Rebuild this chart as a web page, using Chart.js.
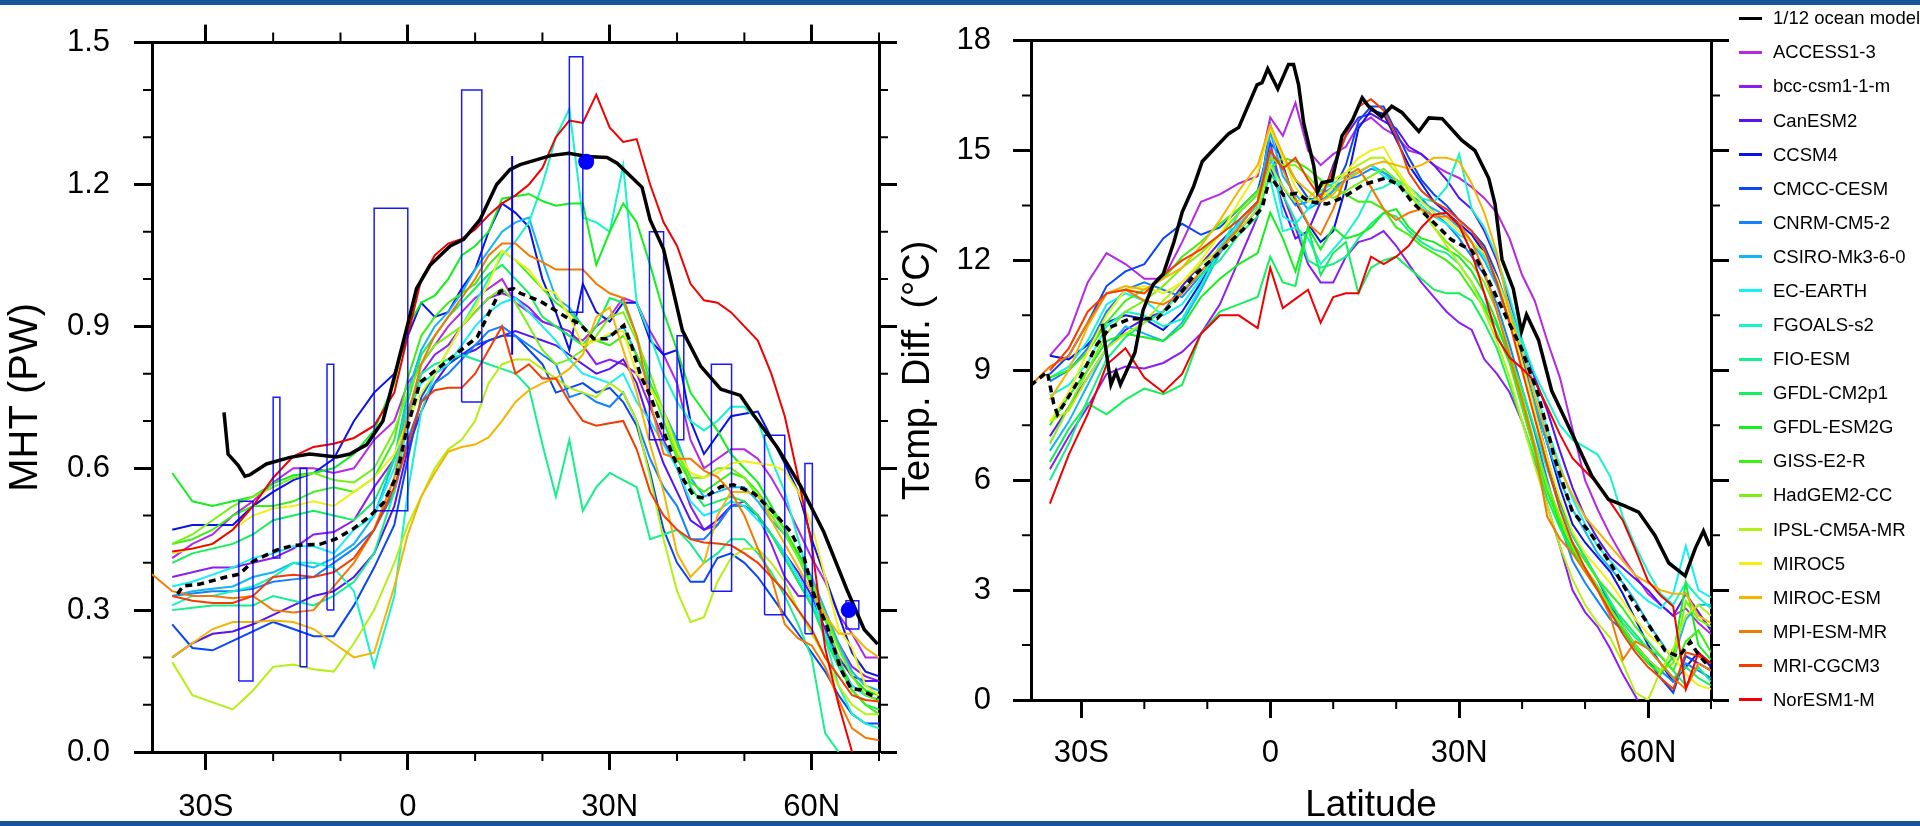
<!DOCTYPE html>
<html>
<head>
<meta charset="utf-8">
<script src="https://cdn.jsdelivr.net/npm/chart.js@4.4.0/dist/chart.umd.min.js"></script>
<style>
  html, body { margin: 0; padding: 0; background: #fff; }
  #wrap { position: relative; width: 1920px; height: 826px; overflow: hidden; font-family: "Liberation Sans", Arial, sans-serif; }
  .band { position: absolute; left: 0; width: 1920px; background: #17569b; }
  #mht { position: absolute; left: 0; top: 0; }
  #temp { position: absolute; left: 880px; top: 0; }
  .key { position: absolute; left: 1739px; width: 23px; height: 3px; }
  .keytext { position: absolute; left: 1773px; font-size: 18.5px; line-height: 20px; white-space: nowrap; color: #000; }
</style>
</head>
<body>
<div id="wrap">
  <canvas id="mht" width="960" height="826"></canvas>
  <canvas id="temp" width="1040" height="826"></canvas>
  <div id="legend"></div>
  <div class="band" style="top:0;height:5px"></div>
  <div class="band" style="top:821px;height:5px"></div>
</div>
<script>
// ---- axis ticks ----
const xMajor = [-30, 0, 30, 60];
const xLabels = ['30S', '0', '30N', '60N'];
const xMinor = [-20, -10, 10, 20, 40, 50, 70];
const mhtMajor = [0, 0.3, 0.6, 0.9, 1.2, 1.5];
const mhtMinor = [0.1, 0.2, 0.4, 0.5, 0.7, 0.8, 1.0, 1.1, 1.3, 1.4];
const tempMajor = [0, 3, 6, 9, 12, 15, 18];
const tempMinor = [1.5, 4.5, 7.5, 10.5, 13.5, 16.5];

// ---- models ----
const models = ['ACCESS1-3', 'bcc-csm1-1-m', 'CanESM2', 'CCSM4', 'CMCC-CESM', 'CNRM-CM5-2', 'CSIRO-Mk3-6-0',
  'EC-EARTH', 'FGOALS-s2', 'FIO-ESM', 'GFDL-CM2p1', 'GFDL-ESM2G', 'GISS-E2-R', 'HadGEM2-CC', 'IPSL-CM5A-MR',
  'MIROC5', 'MIROC-ESM', 'MPI-ESM-MR', 'MRI-CGCM3', 'NorESM1-M'];
const colors = ['#b428e6', '#8c1ef2', '#5514f0', '#0a14e6', '#0a46f5', '#1482ff', '#14b4f5',
  '#14f0f5', '#14f5c8', '#14f08c', '#14f05a', '#14f01e', '#3cf014', '#78f014', '#b4f014',
  '#f0f014', '#f5b400', '#f57800', '#f53c00', '#f00000'];

// latitude grid shared by the model curves
const latGrid = [-38, -35, -32, -29, -26, -23, -20, -17, -14, -11, -8, -5, -2,
  0, 2, 4, 6, 8, 10, 12, 14, 16, 18, 20, 22, 24, 26, 28, 30, 32, 34, 36, 38, 40, 42, 44, 46, 48,
  50, 52, 54, 56, 58, 60, 62, 64, 66, 68, 70];

// MHT (PW), left panel
const mhtACCESS = [null, 0.41,0.44,0.46,0.50,0.53,0.57,0.60,0.60,0.59,0.60,0.66,0.70, 0.78,0.82,0.86,0.90,0.93,0.96,0.98,1.00,0.95,0.93,0.91,0.90,0.88,0.87,0.90,0.92,0.96,0.95,0.89,0.84,0.78,0.66,0.60,0.62,0.64,0.64,0.62,0.58,0.53,0.47,0.41,0.36,0.29,0.25,0.20,0.20];
const mhtBCC = [null, 0.37,0.38,0.39,0.39,0.40,0.41,0.43,0.46,0.465,0.49,0.56,0.62, 0.72,0.80,0.84,0.86,0.90,0.93,0.96,0.97,0.96,0.94,0.91,0.90,0.89,0.86,0.82,0.83,0.82,0.80,0.73,0.66,0.60,0.52,0.47,0.48,0.52,0.53,0.50,0.44,0.37,0.33,0.33,0.28,0.23,0.18,0.16,0.15];
const mhtCanESM2 = [null, 0.20,0.23,0.25,0.255,0.27,0.29,0.31,0.33,0.34,0.37,0.42,0.52, 0.64,0.72,0.78,0.82,0.84,0.85,0.87,0.88,0.89,0.88,0.87,0.86,0.84,0.82,0.80,0.81,0.83,0.78,0.69,0.61,0.55,0.49,0.47,0.49,0.52,0.52,0.50,0.46,0.42,0.38,0.33,0.26,0.20,0.16,0.15,0.15];
const mhtCCSM4 = [null, 0.47,0.48,0.48,0.48,0.52,0.55,0.575,0.59,0.62,0.70,0.76,0.80, 0.88,0.95,0.92,0.93,0.98,1.02,1.10,1.16,1.14,1.11,1.00,0.93,0.85,0.99,0.93,0.91,0.95,0.95,0.87,0.84,0.85,0.70,0.63,0.67,0.71,0.715,0.72,0.665,0.61,0.55,0.45,0.37,0.29,0.21,0.17,0.16];
const mhtCMCC = [null, 0.27,0.22,0.215,0.235,0.255,0.275,0.26,0.245,0.245,0.31,0.39,0.48, 0.62,0.75,0.80,0.82,0.84,0.86,0.87,0.88,0.88,0.85,0.82,0.76,0.77,0.78,0.76,0.77,0.74,0.69,0.59,0.47,0.40,0.36,0.36,0.41,0.42,0.40,0.37,0.33,0.29,0.25,0.21,0.17,0.12,0.08,0.06,0.06];
const mhtCNRM = [null, 0.33,0.335,0.34,0.34,0.345,0.36,0.365,0.37,0.40,0.43,0.47,0.55, 0.66,0.74,0.78,0.80,0.83,0.86,0.89,0.90,0.88,0.86,0.84,0.82,0.75,0.76,0.74,0.73,0.76,0.70,0.62,0.56,0.52,0.45,0.45,0.48,0.52,0.52,0.50,0.46,0.41,0.36,0.31,0.25,0.19,0.14,0.12,0.11];
const mhtCSIRO = [null, 0.33,0.34,0.345,0.35,0.37,0.38,0.40,0.39,0.41,0.44,0.50,0.62, 0.76,0.85,0.90,0.93,0.97,1.02,1.06,1.10,1.12,1.13,1.04,0.96,0.94,0.90,0.87,0.88,0.90,0.84,0.77,0.72,0.66,0.58,0.54,0.55,0.56,0.56,0.53,0.49,0.46,0.42,0.37,0.30,0.23,0.17,0.14,0.13];
const mhtEC = [null, 0.35,0.36,0.375,0.39,0.41,0.42,0.435,0.435,0.42,0.47,0.50,0.60, 0.72,0.78,0.80,0.82,0.86,0.90,0.93,0.95,0.96,0.93,0.90,0.87,0.83,0.80,0.79,0.78,0.80,0.74,0.70,0.65,0.60,0.53,0.50,0.51,0.53,0.52,0.49,0.46,0.42,0.37,0.32,0.25,0.18,0.14,0.12,0.11];
const mhtFGOALS = [null, 0.31,0.33,0.33,0.34,0.35,0.37,0.40,0.40,0.39,0.34,0.18,0.33, 0.55,0.72,0.80,0.85,0.90,0.95,1.00,1.05,1.08,1.12,1.20,1.30,1.36,1.13,1.12,1.10,1.24,0.95,0.88,0.80,0.74,0.70,0.68,0.70,0.73,0.73,0.70,0.62,0.55,0.45,0.35,0.24,0.14,0.08,0.06,0.05];
const mhtFIO = [null, 0.30,0.305,0.31,0.31,0.31,0.33,0.32,0.31,0.33,0.36,0.42,0.55, 0.70,0.80,0.82,0.83,0.84,0.83,0.82,0.81,0.80,0.77,0.65,0.54,0.66,0.51,0.56,0.59,0.575,0.56,0.45,0.46,0.47,0.44,0.40,0.42,0.45,0.45,0.42,0.38,0.33,0.27,0.20,0.04,0.0,null,null,null];
const mhtCM2p1 = [null, 0.40,0.42,0.43,0.44,0.46,0.49,0.50,0.51,0.50,0.49,0.53,0.62, 0.74,0.84,0.88,0.92,0.95,0.98,1.01,1.03,1.00,0.97,0.92,0.90,0.88,0.86,0.90,0.96,0.95,0.88,0.78,0.72,0.65,0.56,0.52,0.53,0.54,0.53,0.50,0.46,0.41,0.36,0.31,0.24,0.18,0.13,0.10,0.09];
const mhtESM2G = [null, 0.59,0.53,0.52,0.53,0.54,0.568,0.585,0.59,0.60,0.63,0.68,0.78, 0.90,0.95,0.965,1.0,1.05,1.07,1.10,1.17,1.175,1.18,1.165,1.155,1.16,1.16,1.03,1.10,1.16,1.12,1.03,0.93,0.85,0.76,0.72,0.68,0.63,0.60,0.57,0.52,0.47,0.42,0.36,0.29,0.22,0.16,0.13,0.12];
const mhtGISS = [null, 0.44,0.45,0.47,0.50,0.52,0.52,0.53,0.55,0.56,0.55,0.58,0.66, 0.79,0.88,0.92,0.95,0.97,0.99,1.03,1.06,1.04,1.01,0.98,0.95,0.93,0.90,0.87,0.86,0.88,0.84,0.78,0.70,0.62,0.57,0.55,0.57,0.59,0.58,0.55,0.51,0.47,0.41,0.35,0.28,0.20,0.13,0.10,0.08];
const mhtHadGEM = [null, 0.44,0.46,0.49,0.52,0.54,0.56,0.58,0.59,0.575,0.57,0.60,0.68, 0.76,0.82,0.86,0.88,0.90,0.93,0.96,0.98,0.95,0.90,0.85,0.82,0.83,0.85,0.88,0.92,0.93,0.87,0.80,0.72,0.63,0.58,0.58,0.60,0.60,0.58,0.54,0.50,0.46,0.41,0.36,0.29,0.22,0.16,0.12,0.11];
const mhtIPSL = [null, 0.19,0.12,0.105,0.09,0.13,0.18,0.185,0.175,0.17,0.23,0.30,0.40, 0.48,0.54,0.60,0.64,0.66,0.70,0.78,0.82,0.83,0.83,0.81,0.79,0.77,0.76,0.75,0.78,0.76,0.70,0.58,0.45,0.34,0.275,0.285,0.36,0.41,0.43,0.43,0.40,0.36,0.30,0.25,0.20,0.14,0.10,0.08,0.08];
const mhtMIROC5 = [null, 0.42,0.43,0.44,0.47,0.50,0.515,0.52,0.53,0.52,0.55,0.58,0.63, 0.70,0.76,0.80,0.85,0.90,0.94,0.99,1.06,1.04,1.02,0.98,0.97,0.92,0.86,0.87,0.885,0.89,0.80,0.77,0.72,0.64,0.59,0.58,0.59,0.61,0.615,0.61,0.607,0.595,0.55,0.48,0.37,0.26,0.22,0.14,0.12];
const mhtMIROCESM = [null, 0.20,0.23,0.26,0.275,0.275,0.278,0.275,0.26,0.23,0.20,0.21,0.35, 0.46,0.54,0.59,0.635,0.645,0.65,0.665,0.70,0.74,0.765,0.78,0.79,0.81,0.84,0.92,0.94,0.85,0.76,0.65,0.55,0.42,0.37,0.40,0.50,0.55,0.55,0.545,0.49,0.44,0.39,0.34,0.29,0.25,0.25,0.22,0.20];
const mhtMPI = [0.376, 0.34,0.33,0.33,0.325,0.33,0.30,0.295,0.30,0.35,0.40,0.47,0.58, 0.71,0.82,0.88,0.92,0.96,1.00,1.05,1.075,1.075,1.05,1.036,1.02,1.02,1.02,0.99,0.97,0.96,0.88,0.74,0.63,0.62,0.62,0.595,0.582,0.55,0.50,0.43,0.37,0.27,0.24,0.225,0.18,0.11,0.05,0.03,0.025];
const mhtMRI = [null, 0.33,0.32,0.315,0.315,0.33,0.37,0.375,0.37,0.38,0.41,0.47,0.56, 0.65,0.74,0.765,0.77,0.77,0.80,0.85,0.90,0.80,0.82,0.79,0.79,0.74,0.70,0.69,0.695,0.70,0.64,0.55,0.50,0.47,0.45,0.443,0.441,0.437,0.42,0.40,0.37,0.34,0.30,0.26,0.20,0.16,0.12,0.11,0.107];
const mhtNorESM = [null, 0.424,0.43,0.44,0.47,0.52,0.58,0.625,0.645,0.652,0.664,0.69,0.76, 0.88,1.00,1.05,1.075,1.085,1.105,1.135,1.16,1.177,1.20,1.235,1.30,1.335,1.33,1.39,1.32,1.29,1.296,1.20,1.12,1.07,0.99,0.955,0.95,0.93,0.90,0.87,0.80,0.71,0.58,0.44,0.22,0.10,0.0,null,null];
const mhtModels = [mhtACCESS, mhtBCC, mhtCanESM2, mhtCCSM4, mhtCMCC, mhtCNRM, mhtCSIRO, mhtEC, mhtFGOALS, mhtFIO,
  mhtCM2p1, mhtESM2G, mhtGISS, mhtHadGEM, mhtIPSL, mhtMIROC5, mhtMIROCESM, mhtMPI, mhtMRI, mhtNorESM];

// 1/12 ocean model and model mean, MHT
const mhtOceanLat = [-27.3,-26.7,-25.2,-24.2,-23.5,-21,-17.5,-14.6,-10.6,-8.6,-6.1,-3.7,-2.6,0,1.3,3.3,6.3,8.3,10.7,13.2,15.2,16.7,21.2,23.9,26.6,29.6,31.1,34.8,36,38,40.8,43.5,46.5,49.4,51.4,54.9,58.4,61.8,65.3,67.8,69.8];
const mhtOcean = [0.718,0.63,0.606,0.583,0.586,0.609,0.623,0.63,0.624,0.63,0.65,0.70,0.76,0.905,0.98,1.029,1.07,1.084,1.125,1.20,1.232,1.242,1.261,1.266,1.259,1.257,1.245,1.194,1.125,1.063,0.891,0.816,0.767,0.754,0.712,0.644,0.561,0.465,0.341,0.259,0.228];
const mhtMeanLat = [-34.2,-33.4,-30.9,-27,-25,-23,-19.5,-17,-13.1,-10.6,-8.1,-5.6,-3.6,-1.7,-0.2,1.8,4.3,7.3,10.3,12.2,13.7,15.7,16.7,19.7,23.6,25.6,27.6,29.6,32.1,33.3,34.6,36,38,39.5,41,42.5,44,46.5,48.4,51.4,54.4,56.9,58.9,60.3,62.3,64.3,65.8,67.3,69.8];
const mhtMean = [0.334,0.351,0.355,0.37,0.376,0.403,0.427,0.437,0.439,0.451,0.472,0.499,0.527,0.582,0.678,0.781,0.809,0.843,0.877,0.932,0.974,0.98,0.97,0.953,0.919,0.905,0.874,0.874,0.902,0.857,0.795,0.754,0.678,0.623,0.575,0.541,0.537,0.561,0.565,0.547,0.506,0.465,0.41,0.334,0.265,0.176,0.135,0.131,0.114];

// observational estimates (boxes, error bar, dots)
const obsLat0 = [-25.1, -20, -16, -12, -5, 8, 24, 35.9, 40, 45.1, 53, 59, 65.1];
const obsLat1 = [-23, -19, -15, -11, 0, 11, 26, 38, 41, 48.1, 56, 60.1, 67];
const obsLo = [0.15, 0.41, 0.18, 0.30, 0.51, 0.74, 0.93, 0.66, 0.66, 0.34, 0.29, 0.25, 0.26];
const obsHi = [0.53, 0.75, 0.60, 0.82, 1.15, 1.40, 1.47, 1.10, 0.88, 0.82, 0.67, 0.61, 0.32];
const errLat = [15.5];
const errLo = [0.84];
const errHi = [1.26];
const dotLat = [26.5, 65.5];
const dotVal = [1.248, 0.30];

// Temperature difference (deg C), right panel
const tmpACCESS = [null, 9.4,10.0,11.4,12.2,11.9,11.5,11.5,12.5,13.6,13.8,14.1,14.3, 15.9,15.4,16.3,15.0,14.6,14.9,15.1,15.7,15.9,15.6,15.4,15.0,14.9,14.6,14.4,14.25,14.0,13.7,13.3,12.6,11.6,10.9,9.8,8.8,7.4,6.0,5.2,4.5,3.9,3.4,2.9,2.6,2.3,2.5,2.1,1.8];
const tmpBCC = [null, 6.3,7.2,8.0,8.9,9.1,9.05,9.2,9.5,10.0,10.8,12.0,13.2, 15.2,13.8,12.9,11.9,11.4,11.4,12.1,12.5,12.6,12.8,12.4,11.9,11.4,11.0,10.6,10.3,10.1,9.3,8.9,8.4,7.6,6.5,5.3,4.2,3.0,2.4,2.0,1.4,0.7,0.1,-0.5,null,null,null,null,null];
const tmpCanESM2 = [null, 7.2,8.0,8.8,9.6,10.1,10.4,10.6,11.3,11.9,12.5,13.0,13.5, 14.6,13.5,12.6,12.8,13.6,14.6,15.4,15.9,16.0,15.8,15.6,15.1,14.9,14.6,14.2,13.7,13.4,12.8,12.0,10.9,9.8,8.8,7.9,6.8,5.8,5.0,4.4,3.9,3.6,3.3,3.0,2.6,2.3,2.9,2.4,1.9];
const tmpCCSM4 = [null, 9.4,9.3,9.7,10.3,10.5,10.4,10.1,10.6,11.4,12.3,12.8,13.4, 15.7,14.6,13.6,13.0,12.5,12.8,14.0,15.6,16.1,16.0,15.3,14.6,14.1,13.6,13.3,13.0,12.7,12.2,11.4,10.4,9.3,8.1,7.0,5.8,4.8,4.3,3.9,3.5,2.9,2.2,1.5,1.0,0.5,0.9,1.3,0.9];
const tmpCMCC = [null, 8.9,9.4,10.3,11.3,11.7,11.9,12.6,13.0,12.7,12.9,13.4,13.9, 15.2,14.8,14.2,13.7,13.6,13.9,14.6,15.8,16.2,16.2,15.5,14.8,14.2,13.8,13.5,13.1,12.8,12.4,11.6,10.6,9.4,8.0,6.6,5.4,4.5,3.9,3.3,2.6,2.0,1.5,1.1,0.6,0.2,1.2,1.0,0.8];
const tmpCNRM = [null, 8.7,9.0,9.6,10.6,11.2,11.4,11.2,11.0,11.6,12.2,12.9,13.6, 14.8,14.0,13.5,13.6,13.8,14.0,14.2,14.3,14.5,14.4,14.2,14.0,13.7,13.3,13.0,12.6,12.1,11.6,10.8,9.7,8.5,7.3,6.0,4.8,3.8,3.2,2.7,2.2,1.9,1.5,1.1,0.8,0.5,1.0,0.8,0.6];
const tmpCSIRO = [null, 6.8,7.6,8.6,9.6,10.2,10.0,9.8,10.3,11.2,12.2,13.1,13.6, 15.5,14.3,13.8,13.4,13.6,13.9,14.2,14.4,14.6,14.4,14.1,13.8,13.6,13.4,13.2,12.9,12.5,12.0,11.3,10.3,9.2,8.1,7.0,6.0,5.2,4.6,4.0,3.6,3.2,2.7,2.1,1.6,1.1,2.2,2.6,2.6];
const tmpEC = [null, 8.8,9.1,9.8,10.8,11.1,10.9,10.5,10.8,11.5,12.4,13.0,13.5, 15.0,13.2,13.0,13.4,13.9,14.1,14.3,14.4,14.6,14.3,14.1,13.8,13.5,13.2,13.0,12.7,12.5,12.1,11.5,10.7,9.7,8.5,7.4,6.4,5.5,4.8,4.2,3.8,3.4,3.0,2.7,2.5,2.9,4.2,3.0,2.8];
const tmpFGOALS = [null, 8.3,8.6,9.2,10.2,10.6,10.5,10.2,10.4,11.3,12.3,13.3,13.8, 14.2,12.8,12.9,12.6,11.9,12.3,12.7,13.2,13.9,14.0,14.2,14.0,13.7,13.6,14.0,14.9,13.4,12.9,12.1,11.0,9.8,8.9,8.2,7.5,7.1,6.9,6.7,6.1,5.0,4.2,3.5,2.9,2.6,3.2,2.8,2.5];
const tmpFIO = [null, 6.0,7.0,8.2,9.3,9.9,10.3,10.6,11.2,11.6,12.0,12.7,13.2, 14.4,13.8,13.1,12.0,11.8,11.9,12.1,12.6,13.0,13.3,13.2,12.8,12.5,12.3,12.2,11.9,11.4,10.8,10.2,9.4,8.5,7.4,6.3,5.3,4.5,3.9,3.3,2.7,2.1,1.7,1.4,1.2,0.8,0.4,0.9,0.5];
const tmpCM2p1 = [null, 6.5,7.4,8.1,7.8,8.2,8.5,8.35,8.6,10.0,10.6,10.8,11.0, 12.1,11.4,11.3,12.9,11.6,12.2,12.5,11.1,11.8,12.0,12.1,11.8,11.5,11.2,11.1,11.1,10.9,10.3,9.6,8.6,7.6,6.6,5.5,4.7,4.0,3.6,3.1,2.6,2.2,1.8,1.4,1.0,0.6,0.9,0.6,0.4];
const tmpESM2G = [null, 7.5,8.3,9.0,9.8,10.0,9.9,9.8,10.2,11.0,11.5,11.9,12.2, 13.3,12.6,11.7,12.9,12.3,12.9,12.6,12.7,12.9,13.3,13.4,12.9,12.6,12.5,12.3,12.1,11.7,11.1,10.3,9.3,8.0,6.8,5.7,4.8,4.1,3.5,3.0,2.4,1.9,1.4,1.0,0.7,1.2,3.2,1.5,1.1];
const tmpGISS = [null, 8.8,9.0,9.5,10.3,10.9,11.2,11.5,12.1,12.5,13.0,13.4,13.9, 14.5,14.8,14.7,14.5,14.2,14.0,13.8,13.6,13.6,13.4,12.9,12.7,12.4,12.2,12.0,11.7,11.2,10.7,10.0,9.2,8.0,6.8,5.7,4.9,4.3,3.8,3.3,2.9,2.5,2.0,1.6,1.2,0.8,1.6,1.9,1.3];
const tmpHadGEM = [null, 7.0,8.0,9.0,10.0,10.6,10.9,11.3,11.8,12.2,12.7,13.3,13.8, 14.8,14.6,14.6,14.3,13.9,13.7,13.9,14.1,14.3,14.5,14.2,13.8,13.4,12.9,12.5,12.2,11.9,11.4,10.6,9.5,8.3,7.0,5.9,5.0,4.2,3.6,3.1,2.5,2.0,1.5,1.1,0.8,1.0,2.7,2.2,2.0];
const tmpIPSL = [null, 7.6,7.9,8.8,9.6,10.0,10.3,10.9,11.4,11.9,12.3,12.8,13.4, 14.6,14.0,13.6,13.7,14.0,14.2,14.4,14.6,14.8,14.8,14.4,13.9,13.4,12.9,12.4,11.9,11.4,10.6,9.8,8.8,7.6,6.4,5.3,4.2,3.3,2.6,2.1,1.7,1.0,0.2,0.0,0.8,1.4,2.3,2.6,2.3];
const tmpMIROC5 = [null, 7.6,8.4,9.5,10.5,11.2,11.3,11.1,11.4,12.0,12.7,13.6,14.4, 15.6,14.8,14.0,13.6,13.7,14.0,14.4,14.8,15.0,15.1,14.5,14.0,13.6,13.3,13.1,12.8,12.5,12.2,11.5,10.5,9.2,7.9,6.6,5.5,4.6,4.0,3.6,3.2,2.7,2.2,1.8,1.5,1.2,0.7,0.4,0.3];
const tmpMIROCESM = [null, 8.2,9.0,10.2,11.1,11.3,11.2,11.5,11.8,12.4,13.1,13.9,14.6, 15.7,14.9,14.2,13.9,13.6,13.8,14.2,14.4,14.6,14.7,14.6,14.5,14.6,14.8,14.8,14.7,14.1,13.3,12.2,10.6,9.5,8.3,7.2,6.3,5.6,5.0,4.6,4.2,3.8,3.4,3.2,3.0,2.9,2.9,2.3,2.1];
const tmpMPI = [8.6, 9.1,9.4,10.3,11.1,11.2,10.9,10.8,11.1,11.7,12.3,12.9,13.6, 15.0,14.5,13.7,13.0,12.7,13.4,14.3,14.5,14.0,13.4,13.1,13.3,13.4,13.2,13.2,13.0,12.5,11.7,10.6,9.4,8.2,6.9,5.0,4.4,4.0,3.5,3.0,2.3,1.1,1.6,1.4,1.0,0.6,0.3,1.0,0.8];
const tmpMRI = [null, 9.0,9.6,10.6,11.1,11.2,11.1,11.6,12.0,12.3,12.7,13.1,13.6, 15.0,14.5,14.8,14.2,13.7,14.5,15.4,16.2,16.4,16.1,15.4,14.4,13.9,13.6,13.4,13.1,12.8,12.3,11.4,10.3,9.0,7.7,6.4,5.2,4.3,3.6,3.0,2.4,1.8,1.3,0.9,0.6,0.3,1.3,1.2,1.0];
const tmpNorESM = [null, 5.36,6.7,7.8,9.15,9.6,8.8,8.4,8.9,10.0,10.5,10.5,10.15, 11.8,10.7,10.95,11.2,10.3,11.0,11.1,11.1,12.1,11.9,12.1,12.4,12.9,13.25,13.3,12.95,12.2,11.1,9.9,9.35,9.05,8.7,8.0,7.25,6.6,6.25,5.9,5.4,4.9,4.1,3.25,2.85,2.55,0.3,1.3,1.0];
const tmpModels = [tmpACCESS, tmpBCC, tmpCanESM2, tmpCCSM4, tmpCMCC, tmpCNRM, tmpCSIRO, tmpEC, tmpFGOALS, tmpFIO,
  tmpCM2p1, tmpESM2G, tmpGISS, tmpHadGEM, tmpIPSL, tmpMIROC5, tmpMIROCESM, tmpMPI, tmpMRI, tmpNorESM];

const tmpOceanLat = [-26.7,-25.3,-24.5,-23.8,-21.5,-20.2,-18.6,-17.0,-15.3,-14.0,-12.2,-10.8,-9.5,-6.6,-5.0,-2.1,-1.3,-0.4,1.2,2.9,3.7,4.5,5.3,6.9,7.5,8.2,9.8,11.4,13.0,14.6,15.6,17.7,19.3,20.9,23.6,25.2,27.3,30.4,32.5,34.7,35.7,36.8,38.6,39.9,40.7,42.6,44.7,47.9,51.1,53.7,56.3,58.5,61.1,63.3,65.9,67.5,68.8,69.8];
const tmpOcean = [10.27,8.61,8.96,8.61,9.48,10.64,11.34,11.63,12.50,13.31,14.01,14.70,14.94,15.46,15.63,16.79,16.85,17.23,16.68,17.35,17.35,16.79,15.75,14.59,13.87,14.12,14.18,15.40,15.81,16.44,16.21,15.92,16.21,16.04,15.52,15.89,15.87,15.28,15.0,14.24,13.54,12.03,11.22,10.06,10.52,9.83,8.44,7.28,6.11,5.48,5.30,5.13,4.49,3.74,3.39,4.14,4.61,4.20];
const tmpMeanLat = [-38.1,-35.4,-34.4,-33.8,-32.3,-30.2,-27.5,-25.4,-22.2,-18.0,-15.3,-12.2,-8.5,-4.3,-1.3,0,2.1,4.2,6.3,9.0,11.6,14.8,18.2,20.4,22.5,25.7,28.8,32.0,34.7,37.3,39.9,42.6,45.2,47.9,51.1,54.2,57.4,60.1,62.7,64.9,66.7,68.0,69.8];
const tmpMean = [8.58,8.96,8.09,7.80,8.20,8.79,9.71,10.18,10.41,10.41,10.87,11.57,12.15,12.85,13.43,14.30,13.78,13.83,13.6,13.54,13.72,14.07,14.24,14.07,13.6,13.08,12.56,12.27,11.45,10.52,9.6,8.32,6.58,5.18,4.49,3.68,2.75,2.05,1.35,1.18,1.59,1.24,0.89];

// ---- helpers ----
const FONT = '"Liberation Sans", Arial, sans-serif';
Chart.defaults.font.family = FONT;
Chart.defaults.color = '#000';

const pts = (lats, vals) => lats.map((x, i) => ({ x, y: vals[i] }));

function boxPoints() {
  const out = [];
  obsLat0.forEach((a, i) => {
    const b = obsLat1[i];
    out.push({ x: a, y: obsLo[i] }, { x: a, y: obsHi[i] }, { x: b, y: obsHi[i] },
             { x: b, y: obsLo[i] }, { x: a, y: obsLo[i] }, { x: b, y: null });
  });
  return out;
}
function errPoints() {
  const out = [];
  errLat.forEach((a, i) => out.push({ x: a, y: errLo[i] }, { x: a, y: errHi[i] }, { x: a, y: null }));
  return out;
}

function modelSets(series) {
  // first dataset is drawn on top, so the list runs from NorESM1-M back to ACCESS1-3
  return series.map((vals, i) => ({
    label: models[i], data: pts(latGrid, vals), borderColor: colors[i], borderWidth: 2,
    pointRadius: 0, tension: 0, fill: false, spanGaps: false, xAxisID: 'x', yAxisID: 'y'
  })).reverse();
}

function lineSet(label, data, width, dash) {
  return { label, data, borderColor: '#000', borderWidth: width, borderDash: dash || [],
    pointRadius: 0, tension: 0, fill: false, xAxisID: 'x', yAxisID: 'y' };
}

const tickGrid = { display: true, drawOnChartArea: false, drawTicks: true, tickLength: 18, tickWidth: 3, tickColor: '#000' };
const frame = { display: true, width: 3, color: '#000' };
const setTicks = list => s => { s.ticks = list.map(v => ({ value: v })); };

function xBottom(height, pad, title) {
  return {
    type: 'linear', position: 'bottom', min: -38, max: 70,
    afterBuildTicks: setTicks(xMajor), afterFit: s => { s.height = height; },
    ticks: { callback: v => xLabels[xMajor.indexOf(v)], font: { size: 31 }, color: '#000', padding: pad, maxRotation: 0, autoSkip: false },
    grid: tickGrid, border: frame,
    title: title ? { display: true, text: title, color: '#000', font: { size: 37, lineHeight: 1 }, padding: { top: 0, bottom: 2 } } : { display: false }
  };
}
function xTop(height, ticks) {
  return {
    type: 'linear', position: 'top', min: -38, max: 70,
    afterBuildTicks: setTicks(xMajor), afterFit: s => { s.height = height; },
    ticks: { display: false },
    grid: ticks ? tickGrid : { display: true, drawOnChartArea: false, drawTicks: false },
    border: frame
  };
}
function yLeft(max, major, fmt, width, pad, title, size, tpad) {
  return {
    type: 'linear', position: 'left', min: 0, max,
    afterBuildTicks: setTicks(major), afterFit: s => { s.width = width; },
    ticks: { callback: fmt, font: { size: 31 }, color: '#000', padding: pad, autoSkip: false },
    grid: tickGrid, border: frame,
    title: { display: true, text: title, color: '#000', font: { size }, padding: { top: tpad, bottom: 0 } }
  };
}
function yRight(max, major, width) {
  return {
    type: 'linear', position: 'right', min: 0, max,
    afterBuildTicks: setTicks(major), afterFit: s => { s.width = width; },
    ticks: { display: false }, grid: tickGrid, border: frame
  };
}

// short ticks between the labelled ones
function minorTicks(xs, ys, top) {
  return {
    id: 'minorTicks',
    afterDraw(chart) {
      const { ctx, chartArea: a, scales } = chart;
      ctx.save();
      ctx.strokeStyle = '#000';
      ctx.lineWidth = 2;
      ctx.beginPath();
      xs.forEach(v => {
        const px = scales.x.getPixelForValue(v);
        ctx.moveTo(px, a.bottom); ctx.lineTo(px, a.bottom + 9);
        if (top) { ctx.moveTo(px, a.top); ctx.lineTo(px, a.top - 10); }
      });
      ys.forEach(v => {
        const py = scales.y.getPixelForValue(v);
        ctx.moveTo(a.left, py); ctx.lineTo(a.left - 9, py);
        ctx.moveTo(a.right, py); ctx.lineTo(a.right + 9, py);
      });
      ctx.stroke();
      ctx.restore();
    }
  };
}

const common = { responsive: false, animation: false, events: [],
  plugins: { legend: { display: false }, tooltip: { enabled: false } } };

// ---- left panel: MHT ----
const mhtSets = [
  { label: 'obs dots', data: pts(dotLat, dotVal), showLine: false, pointRadius: 8, pointBackgroundColor: '#0000ff',
    pointBorderColor: '#0000ff', pointBorderWidth: 0, xAxisID: 'x', yAxisID: 'y' },
  lineSet('1/12 ocean model', pts(mhtOceanLat, mhtOcean), 3.5),
  lineSet('model mean', pts(mhtMeanLat, mhtMean), 3.5, [7, 5]),
  { label: 'obs range', data: errPoints(), borderColor: '#0000ff', borderWidth: 2, pointRadius: 0, spanGaps: false, xAxisID: 'x', yAxisID: 'y' },
  { label: 'obs boxes', data: boxPoints(), borderColor: 'rgba(0,0,255,0.9)', borderWidth: 1.5, pointRadius: 0, tension: 0, spanGaps: false, xAxisID: 'x', yAxisID: 'y' },
  ...modelSets(mhtModels)
];

new Chart(document.getElementById('mht'), {
  type: 'line',
  data: { datasets: mhtSets },
  options: Object.assign({}, common, {
    scales: {
      x: xBottom(74, 19),
      xTop: xTop(25, true),
      y: yLeft(1.5, mhtMajor, v => v.toFixed(1), 152, 24, 'MHT (PW)', 40, 2),
      yRight: yRight(1.5, mhtMajor, 81)
    }
  }),
  plugins: [minorTicks(xMinor, mhtMinor, true)]
});

// ---- right panel: temperature difference ----
const tmpSets = [
  lineSet('1/12 ocean model', pts(tmpOceanLat, tmpOcean), 3.5),
  lineSet('model mean', pts(tmpMeanLat, tmpMean), 3.5, [7, 5]),
  ...modelSets(tmpModels)
];

new Chart(document.getElementById('temp'), {
  type: 'line',
  data: { datasets: tmpSets },
  options: Object.assign({}, common, {
    scales: {
      x: xBottom(126, 16.5, 'Latitude'),
      xTop: xTop(18, false),
      y: yLeft(18, tempMajor, v => String(v), 151, 22, 'Temp. Diff. (\u00B0C)', 38, 16),
      yRight: yRight(18, tempMajor, 209)
    }
  }),
  plugins: [minorTicks(xMinor, tempMinor, false)]
});

// ---- legend ----
const legend = document.getElementById('legend');
const keyNames = ['1/12 ocean model', ...models];
const keyColors = ['#000000', ...colors];
keyNames.forEach((name, i) => {
  const y = 18.3 + i * 34.08;
  const line = document.createElement('div');
  line.className = 'key';
  line.style.top = (y - 1.5) + 'px';
  line.style.background = keyColors[i];
  legend.appendChild(line);
  const txt = document.createElement('div');
  txt.className = 'keytext';
  txt.style.top = (y - 10) + 'px';
  txt.textContent = name;
  legend.appendChild(txt);
});
</script>
</body>
</html>
